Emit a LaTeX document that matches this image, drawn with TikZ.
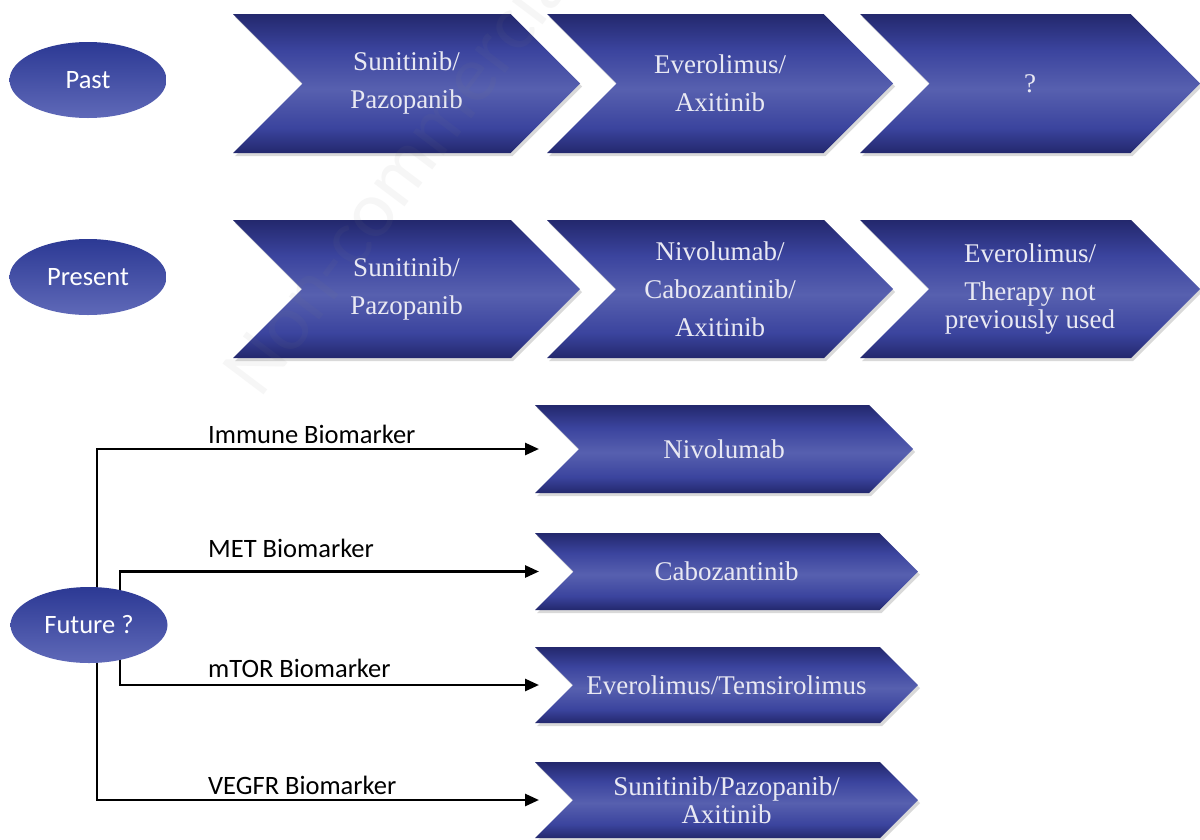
\documentclass[tikz,border=0pt]{standalone}
\usepackage{fontspec}
\setmainfont{Liberation Serif}
\newfontfamily\calibri{Carlito}
\usetikzlibrary{arrows.meta,shadows,backgrounds,shapes.geometric}
\definecolor{chevdark}{HTML}{23286D}
\definecolor{chevmid}{HTML}{3B449E}
\definecolor{chevlight}{HTML}{5760AF}
\definecolor{elltop}{HTML}{2C3994}
\definecolor{ellbot}{HTML}{5F69B8}
\definecolor{chevtxt}{HTML}{E9E9F3}
\pgfdeclareverticalshading{chevshade}{100bp}{color(0bp)=(chevdark); color(25bp)=(chevdark); color(34bp)=(chevmid); color(48bp)=(chevlight); color(62bp)=(chevmid); color(75bp)=(chevdark); color(100bp)=(chevdark)}
\tikzset{
  chevbody/.style={shading=chevshade, drop shadow={shadow xshift=2pt, shadow yshift=-3pt, opacity=0.15, fill=black}},
  chevtext/.style={text=chevtxt, align=center, font=\fontsize{27}{38}\selectfont, inner sep=0pt},
  era/.style={ellipse, minimum width=157pt, minimum height=76pt, top color=elltop, bottom color=ellbot, text=white, font=\calibri\fontsize{26.5}{30}\selectfont, inner sep=0pt},
  conn/.style={line width=2.7pt, -{Triangle[length=14pt,width=12pt]}},
  marker/.style={font=\calibri\fontsize{26.5}{30}\selectfont, anchor=base west, inner sep=0pt},
  wmark/.style={font=\calibri\fontsize{80}{80}\selectfont, text=gray, text opacity=0.07, anchor=base west, rotate=53, inner sep=0pt}
}
% name, left x, top y, width (to tip), height, text
\newcommand{\chev}[6]{%
  \path[chevbody] (#2,#3) -- ({#2+#4-#5/2},#3) -- ({#2+#4},{#3+#5/2}) -- ({#2+#4-#5/2},{#3+#5}) -- (#2,{#3+#5}) -- ({#2+#5/2},{#3+#5/2}) -- cycle;
  \node[chevtext] (#1) at ({#2+#4/2},{#3+#5/2}) {#6};
  \coordinate (#1-in) at ({#2+4},{#3+#5/2});
}
\begin{document}
\begin{tikzpicture}[x=1pt,y=-1pt]
\begin{pgfonlayer}{background}
  \fill[white] (0,0) rectangle (1200,839);
\end{pgfonlayer}
\useasboundingbox (0,0) rectangle (1200,839);

% row: past
\node[era] (past) at (88,80) {Past};
\chev{pa1}{233}{14}{347}{139}{Sunitinib/\\Pazopanib}
\chev{pa2}{547}{14}{346}{139}{Everolimus/\\Axitinib}
\chev{pa3}{860}{14}{340}{139}{?}

% row: present
\node[era] (present) at (88,277) {Present};
\chev{pr1}{233}{220}{347}{138}{Sunitinib/\\Pazopanib}
\chev{pr2}{547}{220}{346}{138}{Nivolumab/\\Cabozantinib/\\Axitinib}
\chev{pr3}{860}{220}{340}{138}{Everolimus/\\Therapy not\\[-10pt]previously used}

% future
\node[era] (fut) at (89,625) {Future ?};
\chev{niv}{535}{405}{378}{88}{Nivolumab}
\chev{cab}{535}{533}{383}{77}{Cabozantinib}
\chev{eve}{535}{647}{383}{76}{Everolimus/Temsirolimus}
\chev{sun}{535}{762}{383}{76}{Sunitinib/Pazopanib/\\[-10pt]Axitinib}

\begin{pgfonlayer}{background}
  \draw[conn] ([xshift=8pt]fut.center) |- (niv-in);
  \draw[conn] ([xshift=31pt]fut.center) |- (cab-in);
  \draw[conn] ([xshift=31pt]fut.center) |- (eve-in);
  \draw[conn] ([xshift=8pt]fut.center) |- (sun-in);
\end{pgfonlayer}

\node[marker] (l1) at (208,443) {Immune Biomarker};
\node[marker] (l2) at (208,557) {MET Biomarker};
\node[marker] (l3) at (208,677) {mTOR Biomarker};
\node[marker] (l4) at (208,794) {VEGFR Biomarker};

% watermark
\begin{scope}
  \clip (0,0) rectangle (1200,839);
  \node[wmark] (wm) at (260,400) {Non-commercial};
\end{scope}
\end{tikzpicture}
\end{document}
